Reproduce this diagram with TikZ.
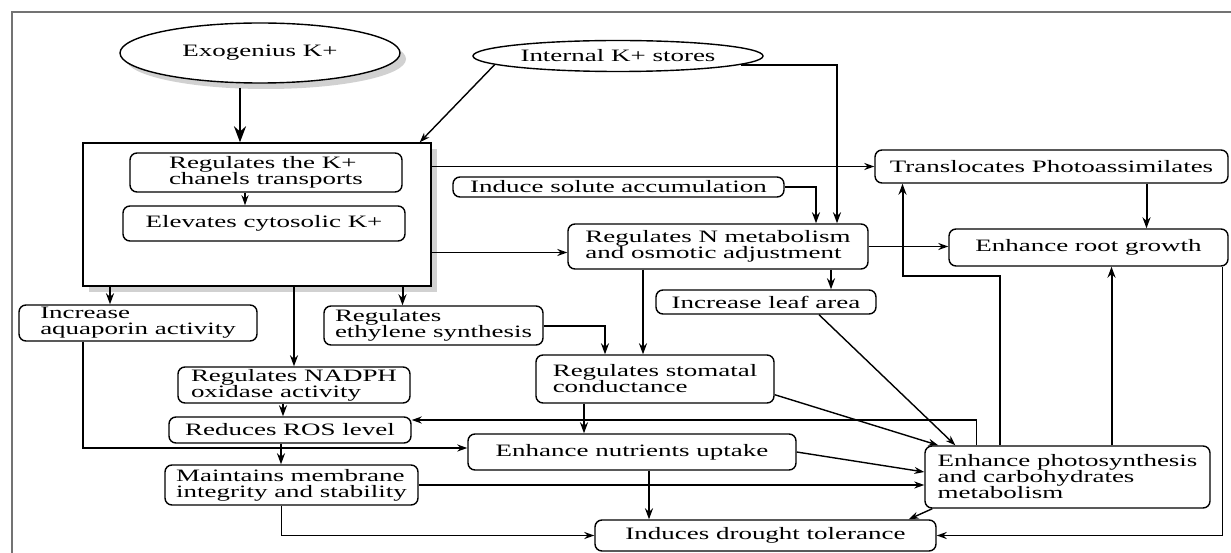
\documentclass[tikz,border=0pt]{standalone}
\usepackage{fontspec}
\setmainfont{Liberation Serif}[FakeStretch=1.55]
\usetikzlibrary{arrows.meta,shapes.geometric,shadows}

\begin{document}
\begin{tikzpicture}[x=1pt, y=-1pt,
	font=\fontsize{17.4}{16}\selectfont,
	procbox/.style={draw, line width=1.4pt, rounded corners=7pt, inner xsep=3pt, inner ysep=1pt, align=left},
	kbox/.style={draw, ellipse, line width=1.4pt, inner sep=0pt},
	link/.style={line width=1.4pt, -{Stealth[length=10pt, width=7pt]}},
	boldlink/.style={line width=2pt, -{Stealth[length=11pt, width=8pt]}},
	bigarrow/.style={line width=2.4pt, -{Stealth[length=16pt, width=12pt]}},
	grayshadow/.style={drop shadow={shadow xshift=6pt, shadow yshift=-6pt, fill=black!18, opacity=1}}]
	% Rahmen
	\useasboundingbox (0,0) rectangle (1231,553);
	\draw[black!55, line width=1.2pt] (1231,12) -- (12,12) -- (12,553);

	% Quellen oben
	\node[kbox, fill=white, grayshadow, minimum width=280pt, minimum height=60pt] (exo) at (260,53) {Exogenius K+};
	\node[kbox, minimum width=290pt, minimum height=31pt] (intl) at (618,56) {Internal K+ stores};

	% Zellbox
	\node[draw, fill=white, grayshadow, line width=1.4pt, minimum width=348pt, minimum height=143pt] (cell) at (257,214.5) {};
	\node[procbox, minimum width=272pt, minimum height=39pt] (chan) at (266,172.5) {Regulates the K+\\chanels transports};
	\node[procbox, minimum width=282pt, minimum height=35pt] (cyto) at (264,223.5) {Elevates cytosolic K+};

	% rechte Seite
	\node[procbox, minimum width=353pt, minimum height=33pt] (trans) at (1051.5,166.5) {Translocates Photoassimilates};
	\node[procbox, minimum width=331pt, minimum height=20pt] (solute) at (618.5,187) {Induce solute accumulation};
	\node[procbox, minimum width=300pt, minimum height=45pt] (nmeta) at (718,246.5) {Regulates N metabolism\\and osmotic adjustment};
	\node[procbox, minimum width=279pt, minimum height=37pt] (root) at (1088.5,247.5) {Enhance root growth};
	\node[procbox, minimum width=220pt, minimum height=24pt] (leaf) at (766,302) {Increase leaf area};

	% Mitte und unten
	\node[procbox, minimum width=238pt, minimum height=36pt] (aqua) at (138,323) {Increase\\aquaporin activity};
	\node[procbox, minimum width=219pt, minimum height=39pt] (ethyl) at (433.5,325.5) {Regulates\\ethylene synthesis};
	\node[procbox, minimum width=232pt, minimum height=36pt] (nadph) at (294,385) {Regulates NADPH\\oxidase activity};
	\node[procbox, minimum width=238pt, minimum height=48pt] (stoma) at (655,379) {Regulates stomatal\\conductance};
	\node[procbox, minimum width=242pt, minimum height=26pt] (ros) at (290,430) {Reduces ROS level};
	\node[procbox, minimum width=328pt, minimum height=36pt] (nutri) at (632,452) {Enhance nutrients uptake};
	\node[procbox, minimum width=253pt, minimum height=40pt] (membr) at (291.5,485) {Maintains membrane\\integrity and stability};
	\node[procbox, minimum width=285pt, minimum height=62pt] (photo) at (1067.5,477) {Enhance photosynthesis\\and carbohydrates\\metabolism};
	\node[procbox, minimum width=341pt, minimum height=31pt] (drought) at (765.5,535.5) {Induces drought tolerance};

	% Pfeile oben
	\coordinate (exoout) at ([xshift=-20pt, yshift=-4pt]exo.south);
	\draw[bigarrow] (exoout) -- (exoout |- cell.north);
	\draw[link] (intl.184) -- ([xshift=-12pt]cell.north east);
	\coordinate (chanout) at ([xshift=-21pt]chan.south);
	\draw[link] (chanout) -- (chanout |- cyto.north);
	\draw[link] (cell.east |- trans.west) -- (trans.west);
	\coordinate (nin1) at ([xshift=98pt]nmeta.north);
	\draw[boldlink] (solute.east) -| (nin1);
	\coordinate (nin2) at ([xshift=119pt]nmeta.north);
	\draw[boldlink] (intl.-4) -| (nin2);
	\coordinate (nin3) at ([yshift=-6pt]nmeta.west);
	\draw[link] (cell.east |- nin3) -- (nin3);
	\draw[link] (nmeta.east) -- (nmeta.east -| root.west);
	\coordinate (rin) at ([xshift=95pt]trans.south);
	\draw[boldlink] (rin) -- (rin |- root.north);

	% Pfeile rechts
	\coordinate (bendA) at ([xshift=-149pt, yshift=-92pt]trans.south);
	\coordinate (pout1) at ([xshift=-68pt]photo.north);
	\draw[boldlink] (pout1) |- (bendA) -- (bendA |- trans.south);
	\coordinate (pout2) at ([xshift=44pt]photo.north);
	\draw[boldlink] (pout2) -- (pout2 |- root.south);
	\coordinate (rout) at ([xshift=134pt]root.south);
	\draw[link] (rout) |- (drought.east);

	% Pfeile aus der Zellbox
	\coordinate (aqin) at ([xshift=-28pt]aqua.north);
	\draw[boldlink] (cell.south -| aqin) -- (aqin);
	\draw[boldlink] (cell.south -| nadph.north) -- (nadph.north);
	\coordinate (ethin) at ([xshift=-31pt]ethyl.north);
	\draw[boldlink] (cell.south -| ethin) -- (ethin);

	% Pfeile Mitte
	\coordinate (stin1) at ([xshift=-50pt]stoma.north);
	\draw[boldlink] (ethyl.east) -| (stin1);
	\coordinate (stin2) at ([xshift=-12pt]stoma.north);
	\draw[boldlink] (nmeta.south -| stin2) -- (stin2);
	\coordinate (lfin) at ([xshift=65pt]leaf.north);
	\draw[boldlink] (nmeta.south -| lfin) -- (lfin);
	\draw[link] ([xshift=53pt]leaf.south) -- ([xshift=31pt]photo.north west);
	\draw[link] ([yshift=9pt]stoma.south east) -- ([xshift=14pt]photo.north west);
	\coordinate (rosout) at ([xshift=-11pt]nadph.south);
	\draw[boldlink] (rosout) -- (rosout |- ros.north);
	\coordinate (rosin) at ([yshift=10pt]ros.east);
	\coordinate (pout3) at ([xshift=-91pt]photo.north);
	\draw[link] (pout3) |- (rosin);
	\coordinate (nuin) at ([xshift=-71pt]stoma.south);
	\draw[boldlink] (nuin) -- (nuin |- nutri.north);
	\coordinate (aqout) at ([xshift=-55pt]aqua.south);
	\coordinate (nuin2) at ([yshift=4pt]nutri.west);
	\draw[link] (aqout) |- (nuin2);

	% Pfeile unten
	\coordinate (mbin) at ([xshift=-9pt]ros.south);
	\draw[boldlink] (mbin) -- (mbin |- membr.north);
	\draw[link] (membr.east) -- (membr.east -| photo.west);
	\draw[link] (nutri.east) -- ([yshift=5pt]photo.west);
	\coordinate (drin) at ([xshift=17pt]nutri.south);
	\draw[boldlink] (drin) -- (drin |- drought.north);
	\coordinate (mbout) at ([xshift=-10pt]membr.south);
	\draw[link] (mbout) |- (drought.west);
	\draw[link] ([xshift=8pt]photo.south west) -- ([xshift=-28pt]drought.north east);
\end{tikzpicture}
\end{document}
